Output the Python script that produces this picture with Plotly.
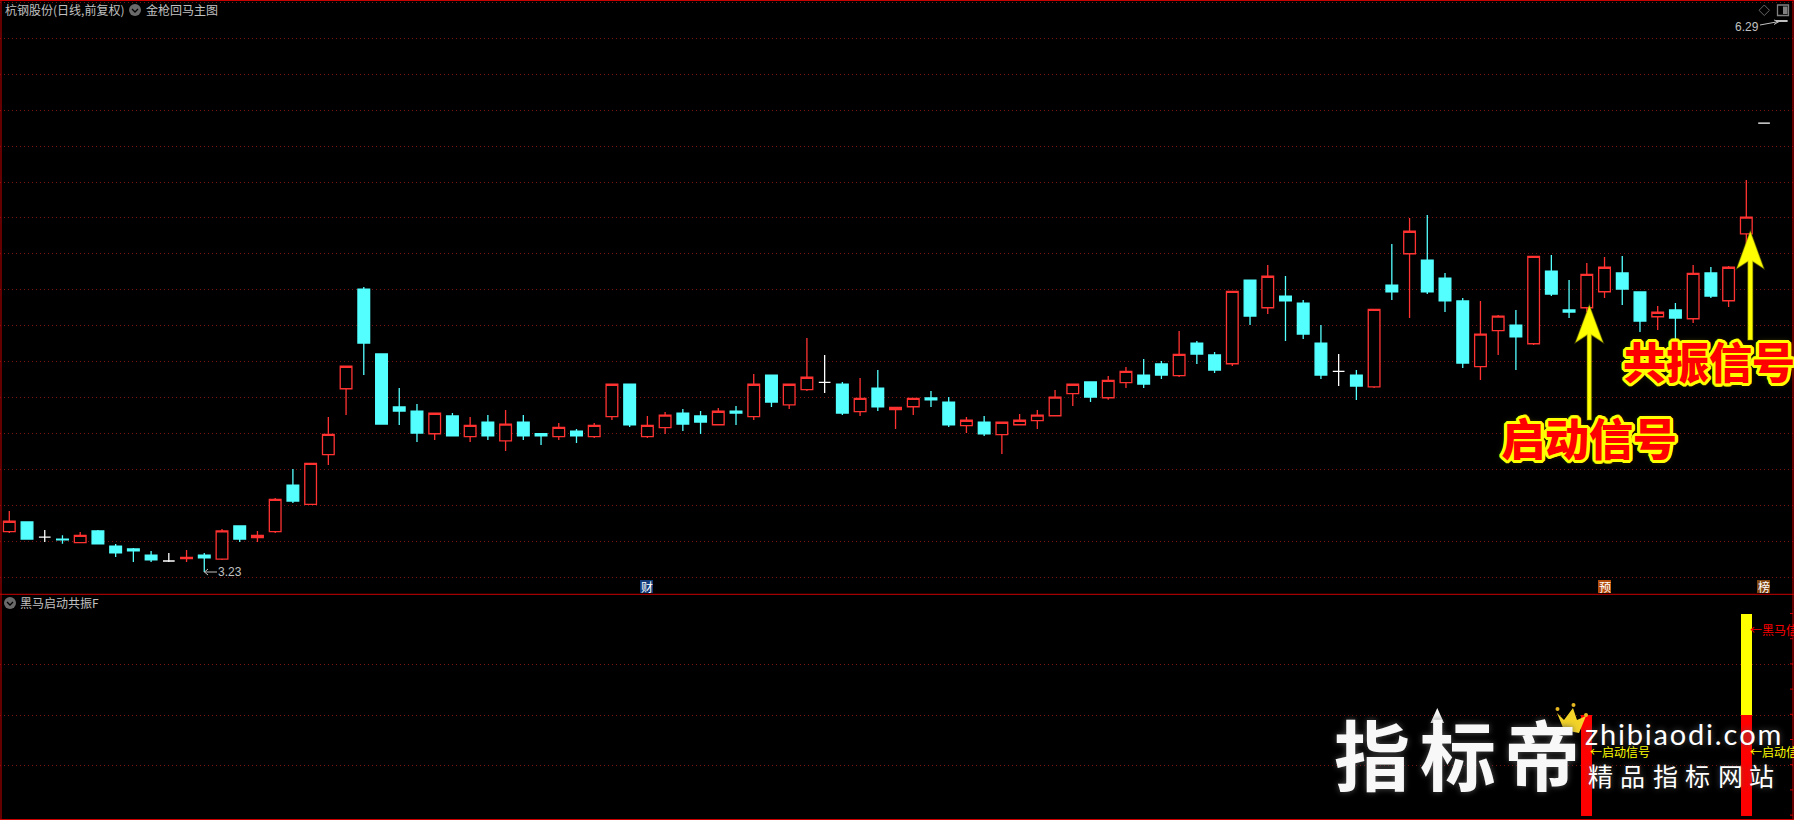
import plotly.graph_objects as go

W, H = 1794, 820

# Daily prices, one value per session
opens = [3.454,3.508,3.424,3.413,3.393,3.458,3.374,3.358,3.324,3.291,3.305,3.324,3.302,3.486,3.421,3.454,3.713,3.606,3.882,4.248,
4.802,4.441,4.147,4.124,3.998,4.097,3.982,4.063,3.959,4.063,3.998,3.982,4.013,3.982,4.093,4.274,3.982,4.032,4.113,4.097,
4.048,4.124,4.093,4.324,4.159,4.243,4.284,4.274,4.121,4.252,4.132,4.148,4.197,4.174,4.043,4.063,3.993,4.048,4.071,4.098,
4.221,4.286,4.198,4.282,4.324,4.386,4.321,4.502,4.436,4.387,4.852,4.698,4.763,4.724,4.502,4.345,4.324,4.259,4.824,4.998,
4.963,4.863,4.736,4.371,4.571,4.602,4.498,4.902,4.686,4.698,4.787,4.891,4.786,4.648,4.686,4.637,4.891,4.737,5.109,5.724,6.291]
highs = [3.569,3.508,3.463,3.434,3.452,3.463,3.386,3.363,3.347,3.336,3.352,3.336,3.469,3.486,3.458,3.641,3.802,3.834,4.091,4.373,
4.813,4.441,4.252,4.163,4.112,4.113,4.091,4.102,4.13,4.102,4.002,4.058,4.024,4.058,4.273,4.274,4.097,4.119,4.136,4.124,
4.141,4.152,4.33,4.324,4.273,4.53,4.436,4.286,4.308,4.352,4.145,4.195,4.236,4.202,4.091,4.097,4.062,4.108,4.13,4.241,
4.273,4.286,4.319,4.369,4.413,4.402,4.569,4.513,4.452,4.789,4.852,4.936,4.874,4.741,4.602,4.441,4.352,4.689,5.052,5.197,
5.213,4.891,4.752,4.736,4.658,4.686,4.984,4.991,4.852,4.947,4.98,4.986,4.786,4.708,4.724,4.936,4.924,4.93,5.408,5.724,6.291]
lows = [3.447,3.413,3.397,3.387,3.393,3.386,3.313,3.286,3.286,3.286,3.286,3.23,3.297,3.397,3.397,3.447,3.613,3.606,3.824,4.102,
4.324,4.052,4.047,3.952,3.963,3.986,3.952,3.963,3.902,3.963,3.936,3.963,3.947,3.974,4.074,4.036,3.974,3.997,4.013,3.997,
4.048,4.047,4.074,4.147,4.136,4.236,4.224,4.102,4.097,4.124,4.024,4.102,4.147,4.036,4.002,3.986,3.886,4.048,4.024,4.098,
4.152,4.174,4.187,4.252,4.252,4.302,4.313,4.386,4.336,4.374,4.602,4.663,4.513,4.524,4.302,4.263,4.186,4.252,4.741,4.641,
4.774,4.674,4.363,4.297,4.436,4.352,4.491,4.763,4.641,4.674,4.752,4.713,4.563,4.574,4.519,4.613,4.752,4.702,5.047,5.724,6.291]
closes = [3.512,3.413,3.424,3.409,3.434,3.386,3.336,3.347,3.297,3.291,3.311,3.308,3.458,3.413,3.434,3.634,3.624,3.834,3.995,4.373,
4.502,4.052,4.124,4.002,4.112,3.986,4.045,3.986,4.051,3.986,3.986,4.034,3.986,4.045,4.273,4.047,4.045,4.101,4.052,4.063,
4.123,4.113,4.273,4.174,4.273,4.312,4.284,4.113,4.195,4.147,4.145,4.195,4.186,4.047,4.073,3.997,4.062,4.073,4.101,4.201,
4.273,4.202,4.295,4.345,4.274,4.324,4.439,4.441,4.352,4.789,4.652,4.873,4.736,4.552,4.324,4.345,4.263,4.689,4.786,5.123,
4.786,4.736,4.391,4.551,4.651,4.536,4.984,4.774,4.674,4.884,4.923,4.802,4.624,4.673,4.641,4.889,4.763,4.923,5.201,5.724,6.291]

signal_x = [89, 98]
start_signal = [1, 1]
horse_x = [98]
horse_signal = [1]

RED = "#ff3232"; CYAN = "#54ffff"; GRID = "#7d1414"; BORDER = "#c80000"; GRAY = "#c0c0c0"
CJK = "Noto Sans CJK SC"

sessions = list(range(len(opens)))

def px(x): return x / W
def py(y): return 1 - y / H

def pick(kind):
    if kind == "up":
        return [i for i in sessions if closes[i] > opens[i]]
    if kind == "down":
        return [i for i in sessions if closes[i] < opens[i]]
    return [i for i in sessions if closes[i] == opens[i]]

fig = go.Figure()
for kind, line_c, fill in (("up", RED, "#000000"), ("down", CYAN, CYAN), ("flat", "#ffffff", "#ffffff")):
    idx = pick(kind)
    side = dict(line=dict(color=line_c, width=1.3), fillcolor=fill)
    fig.add_trace(go.Candlestick(
        x=idx, open=[opens[i] for i in idx], high=[highs[i] for i in idx],
        low=[lows[i] for i in idx], close=[closes[i] for i in idx],
        increasing=side, decreasing=side, whiskerwidth=0, showlegend=False, yaxis="y"))

fig.add_trace(go.Bar(x=signal_x, y=start_signal, width=0.62, marker=dict(color="#ff0000", line_width=0),
                     yaxis="y2", showlegend=False))
fig.add_trace(go.Bar(x=horse_x, y=horse_signal, width=0.62, marker=dict(color="#ffff00", line_width=0),
                     yaxis="y2", showlegend=False))

shapes = []
def line(x0, y0, x1, y1, color=BORDER, width=1):
    shapes.append(dict(type="line", xref="paper", yref="paper", x0=px(x0), y0=py(y0), x1=px(x1), y1=py(y1),
                       line=dict(color=color, width=width), layer="above"))
def path(points, fill, color=None, width=0):
    d = "M" + " L".join(f"{px(a):.5f},{py(b):.5f}" for a, b in points) + " Z"
    shapes.append(dict(type="path", xref="paper", yref="paper", path=d, fillcolor=fill,
                       line=dict(color=color or fill, width=width), layer="above"))

# pane borders
line(1, 0, 1, H); line(1793, 0, 1793, H); line(0, 0.5, W, 0.5); line(0, 594.3, W, 594.3); line(0, 819.5, W, 819.5)
for k in range(9):
    line(1790, 613.5 + 25.2 * k, 1793, 613.5 + 25.2 * k)

# round header icons
for cx, cy in ((135, 10), (10, 603)):
    shapes.append(dict(type="circle", xref="paper", yref="paper", x0=px(cx-6), x1=px(cx+6), y0=py(cy-6), y1=py(cy+6),
                       fillcolor="#6a6a6a", line_width=0, layer="above"))
    shapes.append(dict(type="path", xref="paper", yref="paper",
                       path=f"M{px(cx-3)},{py(cy-1)} L{px(cx)},{py(cy+2)} L{px(cx+3)},{py(cy-1)}",
                       line=dict(color="#000000", width=1.3), layer="above"))

# top-right icons
path([(1764.3, 5), (1769.5, 10.3), (1764.3, 15.5), (1759, 10.3)], "#000000", "#666666", 1)
shapes.append(dict(type="rect", xref="paper", yref="paper", x0=px(1777.5), x1=px(1788.5), y0=py(5), y1=py(15.5),
                   fillcolor="#000000", line=dict(color="#808080", width=1.3), layer="above"))
shapes.append(dict(type="rect", xref="paper", yref="paper", x0=px(1783), x1=px(1787.5), y0=py(6.5), y1=py(14),
                   fillcolor="#808080", line_width=0, layer="above"))
# 6.29 leader
line(1760, 25, 1779, 21.5, GRAY, 1)
line(1774, 20, 1779, 21.5, GRAY, 1); line(1774, 24.5, 1779, 21.5, GRAY, 1)
# 3.23 leader
line(204.5, 572, 217, 572, GRAY, 1)
line(204.5, 572, 208, 569, GRAY, 1); line(204.5, 572, 208, 575, GRAY, 1)

# signal arrows
def arrow(cx, tip, base, notch, bottom, half, stem):
    pts = [(cx, tip), (cx+half, base), (cx+stem, notch), (cx+stem, bottom), (cx-stem, bottom), (cx-stem, notch), (cx-half, base)]
    path(pts, "#ffff00", "rgba(130,130,0,0.35)", 1.5)
arrow(1589.3, 305, 342.7, 335, 420, 14, 2.2)
arrow(1750.3, 231, 268.7, 261.5, 340, 13.7, 2.5)

# marker badges
for cx, col in ((1604.5, "#b34d0c"), (1763.5, "#7f4510")):
    shapes.append(dict(type="rect", xref="paper", yref="paper", x0=px(cx-6.5), x1=px(cx+6.5), y0=py(580), y1=py(593),
                       fillcolor=col, line_width=0, layer="above"))
shapes.append(dict(type="rect", xref="paper", yref="paper", x0=px(640), x1=px(653), y0=py(580), y1=py(593),
                   fillcolor="#103a78", line_width=0, layer="above"))

# watermark decorations
path([(1437.3, 708), (1444, 723), (1439.5, 723), (1439.5, 735), (1435, 735), (1435, 723), (1430.5, 723)], "#f8f8f8")
path([(1557, 713), (1564, 720), (1573, 708), (1577, 720), (1586, 716), (1579, 733), (1564, 730)], "#f4d428")
for cx, cy in ((1557.5, 709), (1573.5, 705), (1586, 715)):
    shapes.append(dict(type="circle", xref="paper", yref="paper", x0=px(cx-2), x1=px(cx+2), y0=py(cy-2), y1=py(cy+2),
                       fillcolor="#e8b820", line_width=0, layer="above"))

annotations = []
def label(x, y, text, size=12, color=GRAY, anchor="left", family=CJK, weight=None, shadow=None):
    font = dict(size=size, color=color, family=family)
    if weight: font["weight"] = weight
    if shadow: font["shadow"] = shadow
    annotations.append(dict(xref="paper", yref="paper", x=px(x), y=py(y), text=text, showarrow=False,
                            xanchor=anchor, yanchor="middle", font=font, borderpad=0, borderwidth=0))

label(5, 9.5, "杭钢股份(日线,前复权)")
label(146, 9.5, "金枪回马主图")
label(20, 602.5, "黑马启动共振F")
label(218, 572, "3.23", family="Liberation Sans")
label(1734.5, 26.5, "6.29", family="Liberation Sans")
label(646.5, 586.5, "财", color="#ffffff", anchor="center")
label(1604.5, 586.5, "预", color="#ffffff", anchor="center")
label(1763.5, 586.5, "榜", color="#ffffff", anchor="center")

label(1750, 629, "←黑马信号", color="#ff0000")
label(1590, 751, "←启动信号", color="#ffff00")
label(1750, 751, "←启动信号", color="#ffff00")

ring = ",".join(f"{a}px {b}px 0 #ffff00" for a, b in
                ((3,0),(-3,0),(0,3),(0,-3),(2,2),(-2,2),(2,-2),(-2,-2),(3,1),(3,-1),(-3,1),(-3,-1),(1,3),(-1,3),(1,-3),(-1,-3)))
ring += ",0 0 6px #808000"
label(1588.5, 437, "启动信号", size=44, color="#ff0000", anchor="center", weight=900, shadow=ring)
label(1708.5, 360, "共振信号", size=43, color="#ff0000", anchor="center", weight=900, shadow=ring)

wm_shadow = "0 0 6px rgba(90,90,90,0.9)"
for cx, ch in zip((1372, 1458, 1542), "指标帝"):
    label(cx, 752, ch, size=76, color="#f8f8f8", anchor="center", weight=700, shadow=wm_shadow)
label(1585, 733, "\u200a".join("zhibiaodi.com"), size=29, color="#ffffff", family="Lato", shadow=wm_shadow)
for cx, ch in zip((1600, 1632.7, 1665, 1697, 1730.7, 1761.7), "精品指标网站"):
    label(cx, 775, ch, size=25, color="#ffffff", anchor="center", shadow=wm_shadow)

fig.update_layout(
    width=W, height=H, autosize=False, margin=dict(l=0, r=0, t=0, b=0, pad=0),
    paper_bgcolor="#000000", plot_bgcolor="#000000", barmode="stack", boxmode="overlay", boxgap=0.34, boxgroupgap=0,
    showlegend=False, hovermode=False, font=dict(family=CJK, color=GRAY, size=12),
    xaxis=dict(range=[-0.5247, 100.69], domain=[0, 1], anchor="y2", showgrid=False, zeroline=False,
               showticklabels=False, ticks="", rangeslider=dict(visible=False), showline=False),
    yaxis=dict(domain=[1 - 594.5 / H, 1], range=[3.23 - 22.5 / 180, 3.23 + 572 / 180], anchor="x",
               tickmode="linear", tick0=3.2006, dtick=0.19961, showticklabels=False, ticks="",
               showgrid=True, gridcolor=GRID, gridwidth=1, griddash="1px,3px", zeroline=False, showline=False),
    yaxis2=dict(domain=[0, 1 - 594.5 / H], range=[-4 / 101, 2 + 19.5 / 101], anchor="x",
                tickmode="array", tickvals=[0.5, 1, 1.5], showticklabels=False, ticks="",
                showgrid=True, gridcolor=GRID, gridwidth=1, griddash="1px,3px", zeroline=False, showline=False),
    shapes=shapes, annotations=annotations,
)

fig.write_html("out.html", include_plotlyjs=True, config=dict(displayModeBar=False),
               post_script="document.body.style.margin='0';document.body.style.background='#000';document.documentElement.style.overflow='hidden';")
